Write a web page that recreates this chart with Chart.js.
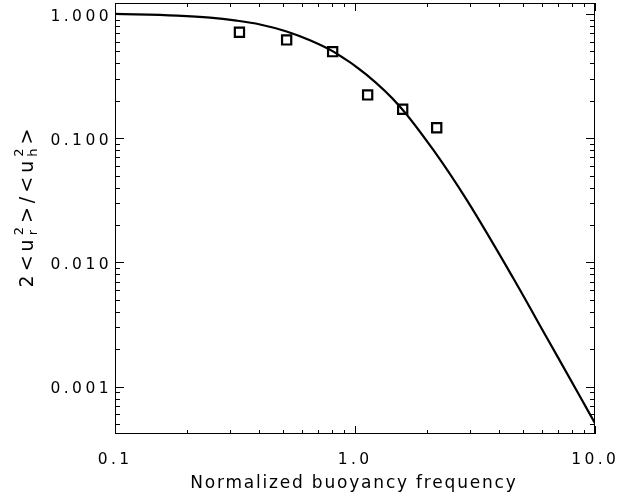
<!DOCTYPE html>
<html>
<head>
<meta charset="utf-8">
<script src="https://cdn.jsdelivr.net/npm/chart.js@4.4.1/dist/chart.umd.min.js"></script>
<style>
  html, body { margin: 0; padding: 0; background: #fff; }
  canvas { display: block; }
</style>
</head>
<body>
<canvas id="myChart" width="629" height="497"></canvas>
<script>
// model curve
const curveN = [0.1, 0.181, 0.249, 0.321, 0.402, 0.519, 0.649, 0.813, 1.119, 1.540, 2.120, 2.921, 4.566, 6.292, 8.660, 10];
const curveRatio = [1.0, 0.969, 0.934, 0.883, 0.823, 0.723, 0.614, 0.497, 0.3228, 0.1794, 0.0804, 0.03183, 0.007458, 0.002489, 0.000834, 0.000507];

// simulation points (squares)
const simN = [0.330, 0.519, 0.807, 1.129, 1.58, 2.19];
const simRatio = [0.712, 0.618, 0.497, 0.223, 0.171, 0.1215];

// tick labels
const xTickValues = [0.1, 1, 10];
const xTickLabels = ["0.1", "1.0", "10.0"];
const yTickValues = [1, 0.1, 0.01, 0.001];
const yTickLabels = ["1.000", "0.100", "0.010", "0.001"];

const xTitle = "Normalized buoyancy frequency";

const ink = "#000";

// draw text with letter spacing, aligned by hand
function spacedText(c, text, x, y, align, ls) {
  c.letterSpacing = ls + "px";
  const w = c.measureText(text).width - ls;
  let x0 = x;
  if (align === "right") x0 = x - w;
  if (align === "center") x0 = x - w / 2;
  c.textAlign = "left";
  c.fillText(text, x0, y);
  return w + ls;
}

function minorValues(min, max) {
  const out = [];
  for (let e = -5; e <= 2; e++) {
    for (let k = 1; k <= 9; k++) {
      const v = k * Math.pow(10, e);
      if (v >= min * 0.999 && v <= max * 1.001) out.push({ v: v, major: k === 1 });
    }
  }
  return out;
}

const framePlugin = {
  id: "frame",
  afterDraw(chart) {
    const c = chart.ctx;
    const a = chart.chartArea;
    const xs = chart.scales.x;
    const ys = chart.scales.y;
    c.save();
    c.strokeStyle = ink;
    c.fillStyle = ink;
    c.lineWidth = 1;

    // box
    c.strokeRect(a.left + 0.5, a.top + 0.5, a.right - a.left - 1, a.bottom - a.top - 1);

    // x ticks, bottom and top
    c.beginPath();
    minorValues(xs.min, xs.max).forEach(t => {
      const px = Math.round(xs.getPixelForValue(t.v)) + 0.5;
      const len = t.major ? 8 : 4;
      c.moveTo(px, a.bottom);
      c.lineTo(px, a.bottom - len);
      c.moveTo(px, a.top);
      c.lineTo(px, a.top + len);
    });
    // y ticks, left and right
    minorValues(ys.min, ys.max).forEach(t => {
      const py = Math.round(ys.getPixelForValue(t.v)) + 0.5;
      const len = t.major ? 9 : 5;
      c.moveTo(a.left, py);
      c.lineTo(a.left + len, py);
      c.moveTo(a.right, py);
      c.lineTo(a.right - len, py);
    });
    c.stroke();

    // tick labels
    c.font = "15.5px 'DejaVu Sans'";
    c.textBaseline = "alphabetic";
    xTickValues.forEach((v, i) => {
      const px = xs.getPixelForValue(v);
      spacedText(c, xTickLabels[i], px - 1.5, 463.5, "center", 3.4);
    });
    yTickValues.forEach((v, i) => {
      const py = ys.getPixelForValue(v);
      spacedText(c, yTickLabels[i], 108.5, py + 6.7, "right", 3.4);
    });

    // x title
    c.font = "17px 'DejaVu Sans'";
    spacedText(c, xTitle, 353, 488, "center", 1.8);

    // y title: 2<u_r^2>/<u_h^2>, rotated
    c.translate(33, 208);
    c.rotate(-Math.PI / 2);
    const big = "19px 'DejaVu Sans'";
    const small = "13px 'DejaVu Sans'";
    const ls = 4;
    const parts = ["2<u", ["2", "r"], ">/<u", ["2", "h"], ">"];
    const widthOf = p => {
      if (typeof p === "string") {
        c.font = big;
        c.letterSpacing = ls + "px";
        return c.measureText(p).width;
      }
      c.font = small;
      c.letterSpacing = "0px";
      return Math.max(c.measureText(p[0]).width, c.measureText(p[1]).width) + ls;
    };
    let total = 0;
    parts.forEach(p => { total += widthOf(p); });
    total -= ls;
    let x = -total / 2;
    parts.forEach(p => {
      const w = widthOf(p);
      if (typeof p === "string") {
        c.font = big;
        spacedText(c, p, x, 0, "left", ls);
      } else {
        c.font = small;
        spacedText(c, p[0], x, -10, "left", 0);
        spacedText(c, p[1], x, 4, "left", 0);
      }
      x += w;
    });
    c.restore();
  }
};

const myChart = new Chart(document.getElementById("myChart"), {
  type: "scatter",
  data: {
    datasets: [
      {
        label: "model",
        data: curveN.map((n, i) => ({ x: n, y: curveRatio[i] })),
        showLine: true,
        borderColor: ink,
        borderWidth: 2.2,
        pointRadius: 0,
        cubicInterpolationMode: "monotone",
        fill: false,
      },
      {
        label: "simulations",
        data: simN.map((n, i) => ({ x: n, y: simRatio[i] })),
        showLine: false,
        pointStyle: "rect",
        pointRadius: 6.5,
        borderColor: ink,
        borderWidth: 2.2,
        backgroundColor: "rgba(0,0,0,0)",
      },
    ],
  },
  options: {
    responsive: false,
    animation: false,
    events: [],
    layout: { autoPadding: false, padding: { top: 3, right: 34, left: 0, bottom: 0 } },
    plugins: {
      legend: { display: false },
      tooltip: { enabled: false },
    },
    scales: {
      x: {
        type: "logarithmic",
        min: 0.1,
        max: 10,
        grid: { display: false },
        border: { display: false },
        ticks: { display: false },
        afterFit: (s) => { s.height = 63; },
      },
      y: {
        type: "logarithmic",
        min: 0.000416,
        max: 1.225,
        grid: { display: false },
        border: { display: false },
        ticks: { display: false },
        afterFit: (s) => { s.width = 115; },
      },
    },
  },
  plugins: [framePlugin],
});
</script>
</body>
</html>
